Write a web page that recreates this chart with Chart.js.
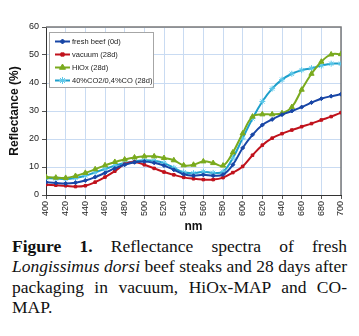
<!DOCTYPE html>
<html>
<head>
<meta charset="utf-8">
<script src="https://cdn.jsdelivr.net/npm/chart.js@4/dist/chart.umd.min.js"></script>
<style>
  html, body { margin: 0; padding: 0; background: #fff; }
  #wrap { width: 359px; height: 236px; }
  .caption {
    width: 335px;
    margin: 0 0 0 12px;
    font-family: "Liberation Serif", "Times New Roman", serif;
    font-size: 17.5px;
    line-height: 20.3px;
    text-align: justify;
    color: #111;
  }
</style>
</head>
<body>
<div id="wrap"><canvas id="grafico" width="359" height="236"></canvas></div>
<div class="caption"><b>Figure 1.</b> Reflectance spectra of fresh <i>Longissimus dorsi</i> beef steaks and 28 days after packaging in vacuum, HiOx-MAP and CO-MAP.</div>

<script>
// wavelength (nm)
const wavelengths = [400, 410, 420, 430, 440, 450, 460, 470, 480, 490, 500,
                     510, 520, 530, 540, 550, 560, 570, 580, 590, 600,
                     610, 620, 630, 640, 650, 660, 670, 680, 690, 700];

const freshBeef = [4.6, 4.3, 4.1, 4.4, 5.2, 6.4, 7.9, 9.5, 10.8, 11.7, 12.0,
                   11.5, 10.5, 9.0, 7.4, 6.9, 7.2, 6.9, 7.3, 10.8, 16.8,
                   21.5, 25.0, 27.0, 28.7, 30.0, 31.4, 33.0, 34.4, 35.3, 36.0];

const vacuum = [3.7, 3.5, 3.3, 3.0, 3.3, 4.6, 6.4, 8.5, 11.0, 11.8, 10.8,
                9.5, 8.2, 7.2, 6.3, 5.8, 5.5, 5.5, 6.2, 8.0, 10.2,
                14.2, 17.8, 20.3, 21.9, 23.2, 24.4, 25.5, 26.8, 28.0, 29.4];

const hiox = [6.4, 6.2, 6.1, 6.8, 7.9, 9.2, 10.6, 11.8, 12.7, 13.4, 13.8,
              13.8, 13.2, 12.4, 10.6, 10.8, 12.0, 11.4, 10.5, 15.2, 22.0,
              28.0, 28.8, 28.8, 29.2, 31.4, 37.6, 43.3, 47.6, 50.2, 50.3];

const coMap = [6.0, 5.9, 5.7, 6.1, 6.9, 8.1, 9.3, 10.5, 11.4, 12.0, 12.4,
               12.2, 11.4, 9.7, 8.1, 7.8, 8.3, 7.9, 8.3, 13.2, 20.3,
               27.3, 33.4, 38.0, 41.2, 43.3, 44.6, 45.3, 46.2, 46.9, 46.9];

const seriesLabels = ['fresh beef (0d)', 'vacuum (28d)', 'HiOx (28d)', '40%CO2/0,4%CO (28d)'];

function pontos(valores) {
    return wavelengths.map((w, i) => ({ x: w, y: valores[i] }));
}

function serie(label, valores, cor, corPonto, estilo, raio) {
    return {
        label: label,
        data: pontos(valores),
        borderColor: cor,
        backgroundColor: corPonto,
        pointBorderColor: corPonto,
        pointStyle: estilo,
        pointRadius: raio,
        pointBorderWidth: 1,
        borderWidth: 2,
        tension: 0.4,
        fill: false
    };
}

// moldura cinza no topo e à direita
const moldura = {
    id: 'moldura',
    beforeDatasetsDraw(chart) {
        const a = chart.chartArea, ctx = chart.ctx;
        ctx.save();
        ctx.strokeStyle = '#7a7a7a';
        ctx.lineWidth = 1.5;
        ctx.beginPath();
        ctx.moveTo(a.left, a.top);
        ctx.lineTo(a.right, a.top);
        ctx.lineTo(a.right, a.bottom);
        ctx.stroke();
        ctx.restore();
    }
};

// legenda dentro da área do gráfico
const legendaInterna = {
    id: 'legendaInterna',
    afterDraw(chart) {
        const ctx = chart.ctx;
        ctx.save();
        ctx.fillStyle = '#fff';
        ctx.fillRect(49.5, 32.5, 104, 55);
        ctx.strokeStyle = '#a6a6a6';
        ctx.lineWidth = 1;
        ctx.strokeRect(49.5, 32.5, 104, 55);
        chart.data.datasets.forEach((ds, i) => {
            const y = 41.5 + i * 13;
            ctx.strokeStyle = ds.borderColor;
            ctx.lineWidth = 2;
            ctx.beginPath();
            ctx.moveTo(55, y);
            ctx.lineTo(70, y);
            ctx.stroke();
            if (Chart.helpers && Chart.helpers.drawPoint) {
                ctx.fillStyle = ds.backgroundColor;
                ctx.strokeStyle = ds.pointBorderColor;
                ctx.lineWidth = 1;
                Chart.helpers.drawPoint(ctx, { pointStyle: ds.pointStyle, radius: ds.pointRadius + 0.5, rotation: 0, borderWidth: 1 }, 62.5, y);
            }
            ctx.fillStyle = '#222';
            ctx.font = '7.5px "Liberation Sans", Arial, sans-serif';
            ctx.textBaseline = 'middle';
            ctx.textAlign = 'left';
            ctx.fillText(ds.label, 72, y + 0.5);
        });
        ctx.restore();
    }
};

const fonteTick = { family: '"Liberation Sans", Arial, sans-serif', size: 9 };
const fonteTitulo = { family: '"Liberation Sans", Arial, sans-serif', size: 12, weight: 'bold' };

new Chart(document.getElementById('grafico'), {
    type: 'line',
    data: {
        datasets: [
            serie(seriesLabels[0], freshBeef, '#1846a6', '#1846a6', 'rectRot', 2),
            serie(seriesLabels[1], vacuum, '#c0121c', '#c0121c', 'rect', 1.8),
            serie(seriesLabels[2], hiox, '#7aaa1e', '#7aaa1e', 'triangle', 3),
            serie(seriesLabels[3], coMap, '#1d9fcb', '#5cc8ea', 'star', 3)
        ]
    },
    options: {
        responsive: false,
        animation: false,
        layout: { padding: { top: 27, right: 18, left: 0, bottom: 0 } },
        plugins: {
            legend: { display: false },
            tooltip: { enabled: false }
        },
        scales: {
            x: {
                type: 'linear',
                min: 400,
                max: 700,
                ticks: {
                    stepSize: 20,
                    minRotation: 90,
                    maxRotation: 90,
                    color: '#222',
                    font: fonteTick,
                    padding: 2
                },
                grid: { color: '#c9dbf2', tickLength: 4, tickColor: '#555' },
                border: { color: '#333', width: 1 },
                title: { display: true, text: 'nm', color: '#111', font: fonteTitulo, padding: { top: 0, bottom: 2 } },
                afterFit(scale) { scale.height = 41; }
            },
            y: {
                min: 0,
                max: 60,
                ticks: { stepSize: 10, color: '#222', font: fonteTick, padding: 3 },
                grid: { color: '#c9dbf2', tickLength: 4, tickColor: '#555' },
                border: { color: '#333', width: 1 },
                title: { display: true, text: 'Reflectance (%)', color: '#111', font: fonteTitulo, padding: { top: 7, bottom: 0 } },
                afterFit(scale) { scale.width = 46; }
            }
        }
    },
    plugins: [moldura, legendaInterna]
});
</script>
</body>
</html>
